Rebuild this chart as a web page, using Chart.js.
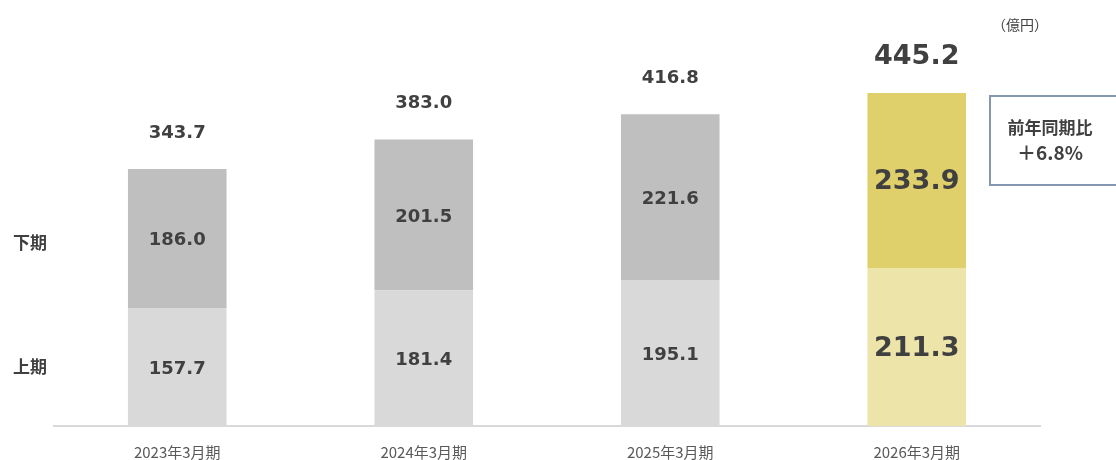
<!DOCTYPE html>
<html><head><meta charset="utf-8">
<script src="https://cdn.jsdelivr.net/npm/chart.js@4/dist/chart.umd.min.js"></script>
<style>html,body{margin:0;padding:0;background:#fff;}#wrap{position:relative;width:1116px;height:460px;}</style>
</head><body><div id="wrap"><canvas id="c" width="1116" height="460"></canvas></div>
<script>
const categories = ['2023年3月期','2024年3月期','2025年3月期','2026年3月期'];
const firstHalf = [157.7, 181.4, 195.1, 211.3];
const secondHalf = [186.0, 201.5, 221.6, 233.9];
const totals = [343.7, 383.0, 416.8, 445.2];
const seriesNames = ['上期','下期'];
const unitLabel = '（億円）';
const calloutTitle = '前年同期比';
const calloutValue = '＋6.8%';

const lowerColors = ['#d9d9d9','#d9d9d9','#d9d9d9','#ede4a9'];
const upperColors = ['#bfbfbf','#bfbfbf','#bfbfbf','#e0d06b'];

const labelsPlugin = {
  id: 'labels',
  afterDatasetsDraw(chart) {
    const ctx = chart.ctx;
    const m0 = chart.getDatasetMeta(0), m1 = chart.getDatasetMeta(1);
    ctx.save();
    ctx.fillStyle = '#404040';
    ctx.textAlign = 'center';
    ctx.textBaseline = 'middle';
    const last = categories.length - 1;
    [m0, m1].forEach((meta, di) => {
      const vals = di === 0 ? firstHalf : secondHalf;
      meta.data.forEach((bar, i) => {
        const big = i === last;
        ctx.font = 'bold ' + (big ? 27 : 18) + 'px "DejaVu Sans", Verdana, sans-serif';
        const yMid = (bar.y + bar.base) / 2;
        ctx.fillText(vals[i].toFixed(1), bar.x, yMid + 2);
      });
    });
    m1.data.forEach((bar, i) => {
      const big = i === last;
      ctx.font = 'bold ' + (big ? 27 : 18) + 'px "DejaVu Sans", Verdana, sans-serif';
      ctx.fillText(totals[i].toFixed(1), bar.x, bar.y - 36);
    });
    // side series labels
    ctx.font = 'bold 17px "Noto Sans CJK JP", sans-serif';
    ctx.textAlign = 'left';
    const b0 = m0.data[0], b1 = m1.data[0];
    ctx.fillText(seriesNames[1], 13, (b1.y + b1.base) / 2 + 4);
    ctx.fillText(seriesNames[0], 13, (b0.y + b0.base) / 2 + 0);
    // unit
    ctx.font = '14px "Noto Sans CJK JP", sans-serif';
    ctx.fillStyle = '#404040';
    ctx.fillText(unitLabel, 992, 25);
    // callout
    ctx.strokeStyle = '#8497b0';
    ctx.lineWidth = 2;
    ctx.strokeRect(990, 96, 140, 89);
    ctx.textAlign = 'center';
    ctx.fillStyle = '#404040';
    ctx.font = 'bold 17px "Noto Sans CJK JP", sans-serif';
    ctx.fillText(calloutTitle, 1050, 128);
    ctx.font = 'bold 19px "Noto Sans CJK JP", sans-serif';
    ctx.fillText(calloutValue, 1050, 153);
    ctx.restore();
  }
};

new Chart(document.getElementById('c'), {
  type: 'bar',
  data: {
    labels: categories,
    datasets: [
      { label: seriesNames[0], data: firstHalf, backgroundColor: lowerColors, borderWidth: 0 },
      { label: seriesNames[1], data: secondHalf, backgroundColor: upperColors, borderWidth: 0 }
    ]
  },
  options: {
    responsive: false,
    animation: false,
    layout: { padding: { left: 54, right: 76, top: 52, bottom: 0 } },
    plugins: { legend: { display: false }, tooltip: { enabled: false } },
    scales: {
      x: {
        stacked: true,
        grid: { display: false },
        border: { color: '#d9d9d9', width: 2 },
        ticks: { color: '#595959', font: { size: 15, family: '"Noto Sans CJK JP", sans-serif' }, padding: 9 },
        afterFit(axis) { axis.height = 34; }
      },
      y: {
        stacked: true, display: false, min: 0, max: 500
      }
    },
    datasets: { bar: { categoryPercentage: 1, barPercentage: 0.4 } }
  },
  plugins: [labelsPlugin]
});
</script>
</body></html>
